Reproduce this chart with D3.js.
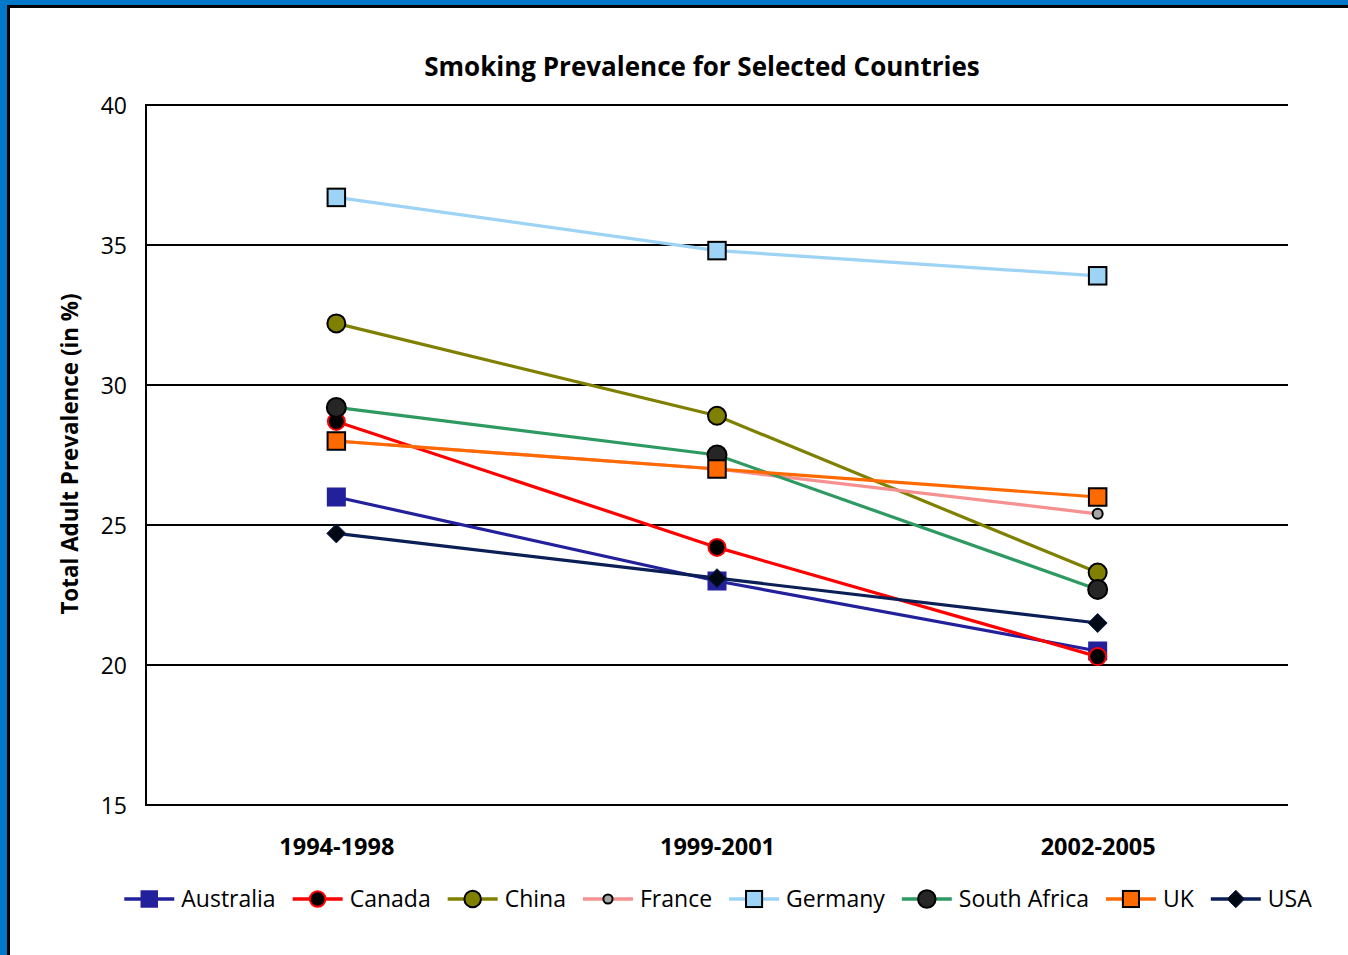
<!DOCTYPE html>
<html>
<head>
<meta charset="utf-8">
<script src="https://cdn.jsdelivr.net/npm/d3@7"></script>
<style>
html,body{margin:0;padding:0;background:#fff;}
svg{display:block;}
</style>
</head>
<body>
<svg id="chart" width="1348" height="955"></svg>
<script>
const categories = ["1994-1998", "1999-2001", "2002-2005"];
const countries = ["Australia", "Canada", "China", "France", "Germany", "South Africa", "UK", "USA"];
const australia   = [26.0, 23.0, 20.5];
const canada      = [28.7, 24.2, 20.3];
const china       = [32.2, 28.9, 23.3];
const france      = [28.0, 27.0, 25.4];
const germany     = [36.7, 34.8, 33.9];
const southAfrica = [29.2, 27.5, 22.7];
const uk          = [28.0, 27.0, 26.0];
const usa         = [24.7, 23.1, 21.5];
const yTicks = [15, 20, 25, 30, 35, 40];

const seriesValues = [australia, canada, china, france, germany, southAfrica, uk, usa];
const styles = [
  {line:"#23209C", shape:"square", size:19, fill:"#23209C", stroke:"none"},
  {line:"#FF0000", shape:"circle", size:8.5, fill:"#000000", stroke:"#FF0000"},
  {line:"#808000", shape:"circle", size:9, fill:"#808000", stroke:"#000000"},
  {line:"#F59190", shape:"circle", size:5, fill:"#A6A6A6", stroke:"#000000"},
  {line:"#9DD3F5", shape:"square", size:17.5, fill:"#9DD3F5", stroke:"#000000"},
  {line:"#2E9A62", shape:"circle", size:9.5, fill:"#262626", stroke:"#000000"},
  {line:"#FF6A00", shape:"square", size:17.5, fill:"#FF6A00", stroke:"#000000"},
  {line:"#0B1F56", shape:"diamond", size:9.5, fill:"#000814", stroke:"#0B1F56"}
];

const svg = d3.select("#chart");
const font = "'Open Sans', sans-serif";

// frame
svg.append("rect").attr("x",0).attr("y",0).attr("width",1348).attr("height",955).attr("fill","#fff");
svg.append("rect").attr("x",0).attr("y",0).attr("width",1348).attr("height",5).attr("fill","#0077C8");
svg.append("rect").attr("x",0).attr("y",0).attr("width",7).attr("height",955).attr("fill","#0077C8");
svg.append("rect").attr("x",7).attr("y",5).attr("width",1341).attr("height",3).attr("fill","#000");
svg.append("rect").attr("x",7).attr("y",5).attr("width",3).attr("height",950).attr("fill","#000");

const x = d3.scalePoint().domain(categories).range([146, 1288]).padding(0.5);
const y = d3.scaleLinear().domain([15, 40]).range([805, 105]);

// gridlines
const grid = svg.append("g");
grid.selectAll("line").data(yTicks).enter().append("line")
  .attr("x1",146).attr("x2",1288)
  .attr("y1",d=>y(d)).attr("y2",d=>y(d))
  .attr("stroke","#000").attr("stroke-width",2);
// left axis line
svg.append("line").attr("x1",146).attr("x2",146).attr("y1",y(40)-1).attr("y2",y(15)+1)
  .attr("stroke","#000").attr("stroke-width",2);

// y axis labels
const yAxis = d3.axisLeft(y).tickValues(yTicks).tickSize(0).tickPadding(0);
const yg = svg.append("g").attr("transform","translate(127,0)").call(yAxis);
yg.select(".domain").remove();
yg.selectAll("text").attr("font-family",font).attr("font-size",23).attr("fill","#000").attr("dy","0.35em");

// x axis labels
const xAxis = d3.axisBottom(x).tickSize(0).tickPadding(0);
const xg = svg.append("g").attr("transform","translate(0,847)").call(xAxis);
xg.select(".domain").remove();
xg.selectAll("text").attr("font-family",font).attr("font-size",23.5).attr("font-weight","bold")
  .attr("fill","#000").attr("dy","0.35em");

// title
svg.append("text").attr("x",702).attr("y",67).attr("dy","0.35em").attr("text-anchor","middle")
  .attr("font-family",font).attr("font-size",26).attr("font-weight","bold").text("Smoking Prevalence for Selected Countries");

// y title
svg.append("text").attr("transform","translate(70,454) rotate(-90)").attr("dy","0.35em")
  .attr("text-anchor","middle").attr("font-family",font).attr("font-size",22.4).attr("font-weight","bold")
  .text("Total Adult Prevalence (in %)");

function drawMarker(g, st, cx, cy, scale) {
  const s = st.size * (scale||1);
  if (st.shape === "square") {
    g.append("rect").attr("x",cx-s/2).attr("y",cy-s/2).attr("width",s).attr("height",s)
      .attr("fill",st.fill).attr("stroke",st.stroke).attr("stroke-width",2);
  } else if (st.shape === "circle") {
    g.append("circle").attr("cx",cx).attr("cy",cy).attr("r",s)
      .attr("fill",st.fill).attr("stroke",st.stroke).attr("stroke-width",2);
  } else {
    g.append("path").attr("d",`M${cx},${cy-s}L${cx+s},${cy}L${cx},${cy+s}L${cx-s},${cy}Z`)
      .attr("fill",st.fill).attr("stroke",st.stroke).attr("stroke-width",1);
  }
}

const line = d3.line().x((d,i)=>x(categories[i])).y(d=>y(d));
const plot = svg.append("g");
seriesValues.forEach((vals, si) => {
  const st = styles[si];
  const g = plot.append("g");
  g.append("path").attr("d", line(vals)).attr("fill","none").attr("stroke",st.line).attr("stroke-width",3.2);
  vals.forEach((v,i) => drawMarker(g, st, x(categories[i]), y(v)));
});

// legend
const lg = svg.append("g");
let lx = 0;
countries.forEach((c, i) => {
  const g = lg.append("g").attr("transform",`translate(${lx},0)`);
  g.append("line").attr("x1",0).attr("x2",50).attr("y1",0).attr("y2",0).attr("stroke",styles[i].line).attr("stroke-width",3.5);
  drawMarker(g, styles[i], 25, 0, 0.92);
  const t = g.append("text").attr("x",57).attr("y",0).attr("dy","0.35em").attr("font-family",font)
    .attr("font-size",23).attr("fill","#000").text(c);
  const w = t.node().getComputedTextLength();
  lx += 57 + w + 17;
});
const totalW = lx - 17;
lg.attr("transform",`translate(${718 - totalW/2},899)`);
</script>
</body>
</html>
